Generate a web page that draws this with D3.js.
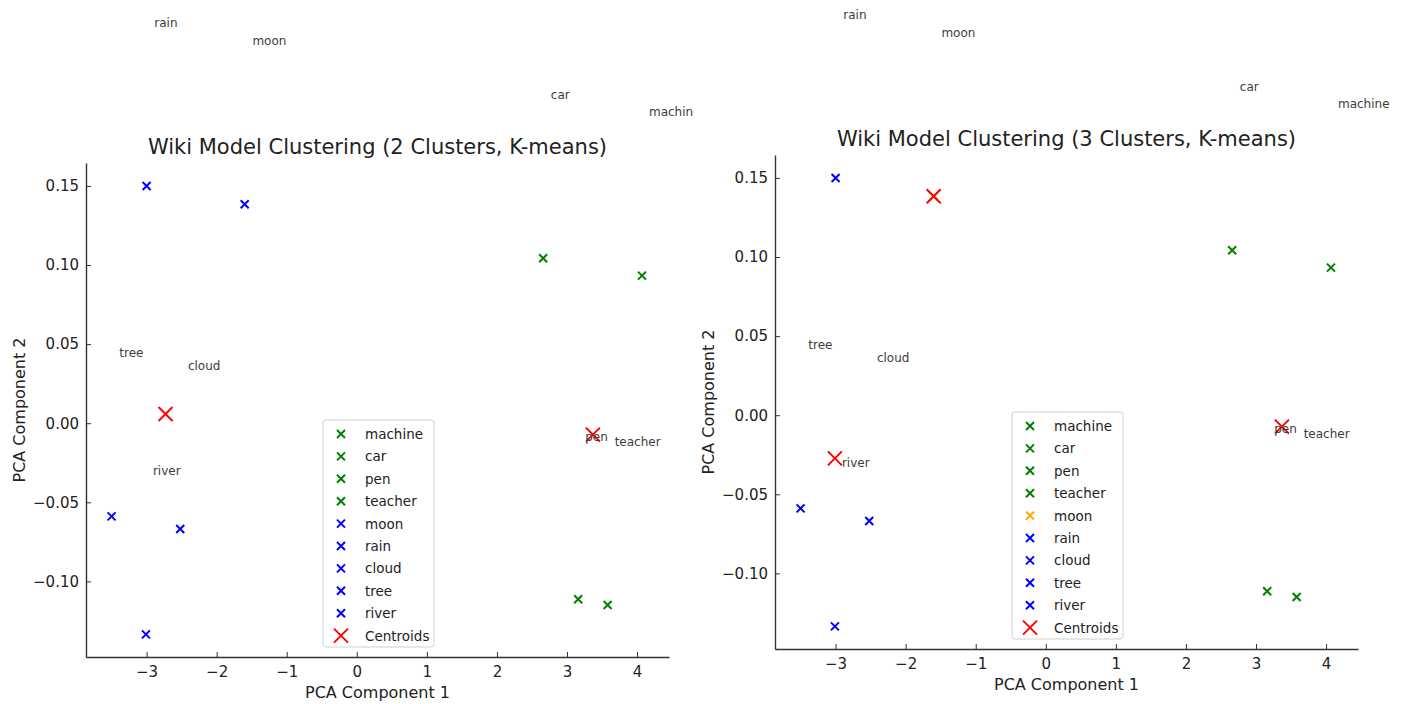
<!DOCTYPE html>
<html>
<head>
<meta charset="utf-8">
<script src="https://cdn.jsdelivr.net/npm/d3@7"></script>
<style>
  body { margin: 0; background: #fff; }
  text { font-family: "DejaVu Sans", sans-serif; }
</style>
</head>
<body>
<div id="chart"></div>
<script>
// words and their PCA coordinates
var words = ["machine", "car", "pen", "teacher", "moon", "rain", "cloud", "tree", "river"];
var pc1 = [4.07, 2.66, 3.16, 3.58, -1.60, -3.00, -2.52, -3.50, -3.01];
var pc2 = [0.0933, 0.1043, -0.1113, -0.1149, 0.1384, 0.1500, -0.0669, -0.0589, -0.1335];

// where the word labels were written (data coords)
var labelX = [4.17, 2.77, 3.26, 3.68, -1.49, -2.89, -2.41, -3.39, -2.91];
var labelY = [0.1967, 0.2075, -0.0086, -0.0120, 0.2416, 0.2530, 0.0363, 0.0443, -0.0304];

// cluster assignments + centroids
var clusters2 = [0, 0, 0, 0, 1, 1, 1, 1, 1];
var colors2 = ["green", "blue"];
var centX2 = [3.37, -2.73];
var centY2 = [-0.0072, 0.0058];

var clusters3 = [0, 0, 0, 0, 1, 2, 2, 2, 2];
var colors3 = ["green", "orange", "blue"];
var centX3 = [3.37, -1.60, -3.01];
var centY3 = [-0.0072, 0.1384, -0.0273];

var xTicks = [-3, -2, -1, 0, 1, 2, 3, 4];
var yTicks = [-0.10, -0.05, 0.00, 0.05, 0.10, 0.15];

var svgWidth = 1404;
var svgHeight = 704;
var width = 583;
var height = 494;

var svg = d3.select("#chart")
  .append("svg")
  .attr("width", svgWidth)
  .attr("height", svgHeight);

// left screenshot is cut off at its right edge
svg.append("clipPath").attr("id", "clipLeft")
  .append("rect").attr("x", 0).attr("y", 0).attr("width", 694).attr("height", svgHeight);

var xScale = d3.scaleLinear().domain([-3.865, 4.456]).range([0, width]);
var yScale = d3.scaleLinear().domain([-0.1478, 0.1645]).range([height, 0]);

// little x marker path
function cross(s) {
  return `M${-s},${-s}L${s},${s}M${-s},${s}L${s},${-s}`;
}

function drawPanel(left, top, title, clusters, colors, centX, centY, clip) {
  var outer = svg.append("g");
  if (clip) outer.attr("clip-path", "url(#clipLeft)");
  var chart = outer.append("g")
    .attr("transform", `translate(${left}, ${top})`);

  // axes, ticks pointing inward
  var bottomAxis = d3.axisBottom(xScale)
    .tickValues(xTicks)
    .tickSizeInner(-5).tickSizeOuter(0).tickPadding(9)
    .tickFormat(d => d3.format("d")(d).replace("-", "\u2212"));
  var leftAxis = d3.axisLeft(yScale)
    .tickValues(yTicks)
    .tickSizeInner(-5).tickSizeOuter(0).tickPadding(7)
    .tickFormat(d => d3.format(".2f")(d).replace("-", "\u2212"));

  var gx = chart.append("g")
    .attr("transform", `translate(0, ${height})`)
    .call(bottomAxis);
  var gy = chart.append("g").call(leftAxis);

  [gx, gy].forEach(function(g) {
    g.select(".domain").attr("stroke", "#333").attr("stroke-width", 1.4);
    g.selectAll(".tick line").attr("stroke", "#333").attr("stroke-width", 1);
    g.selectAll(".tick text").attr("font-size", "15px").attr("fill", "#222")
      .attr("font-family", "DejaVu Sans");
  });

  // title + axis labels
  chart.append("text")
    .attr("x", width / 2).attr("y", -9)
    .attr("text-anchor", "middle")
    .attr("font-size", "21px").attr("fill", "#222")
    .text(title);

  chart.append("text")
    .attr("x", width / 2).attr("y", height + 41)
    .attr("text-anchor", "middle")
    .attr("font-size", "16px").attr("fill", "#222")
    .text("PCA Component 1");

  chart.append("text")
    .attr("transform", "rotate(-90)")
    .attr("x", -height / 2).attr("y", -61)
    .attr("text-anchor", "middle")
    .attr("font-size", "16px").attr("fill", "#222")
    .text("PCA Component 2");

  // word points
  chart.append("g")
    .selectAll("path")
    .data(words)
    .enter()
    .append("path")
    .attr("d", cross(4))
    .attr("transform", (d, i) => `translate(${xScale(pc1[i])}, ${yScale(pc2[i])})`)
    .attr("stroke", (d, i) => colors[clusters[i]])
    .attr("stroke-width", 2)
    .attr("fill", "none");

  // centroids
  chart.append("g")
    .selectAll("path")
    .data(centX)
    .enter()
    .append("path")
    .attr("d", cross(7))
    .attr("transform", (d, i) => `translate(${xScale(centX[i])}, ${yScale(centY[i])})`)
    .attr("stroke", "red")
    .attr("stroke-width", 2)
    .attr("fill", "none");

  // word labels
  chart.append("g")
    .selectAll("text")
    .data(words)
    .enter()
    .append("text")
    .text(d => d)
    .attr("x", (d, i) => xScale(labelX[i]))
    .attr("y", (d, i) => yScale(labelY[i]))
    .attr("dominant-baseline", "central")
    .attr("font-size", "12px")
    .attr("fill", "#3c3c3c");

  // legend
  var entries = words.map((w, i) => ({ name: w, color: colors[clusters[i]], size: 4 }));
  entries.push({ name: "Centroids", color: "red", size: 7 });

  var legend = chart.append("g")
    .attr("transform", "translate(237, 257)");
  legend.append("rect")
    .attr("width", 111).attr("height", 227)
    .attr("rx", 3)
    .attr("fill", "white").attr("fill-opacity", 0.85)
    .attr("stroke", "#d0d0d0");

  var rows = legend.selectAll("g.row")
    .data(entries)
    .enter()
    .append("g")
    .attr("class", "row")
    .attr("transform", (d, i) => `translate(0, ${14 + i * 22.4})`);
  rows.append("path")
    .attr("d", d => cross(d.size))
    .attr("transform", "translate(18, 0)")
    .attr("stroke", d => d.color)
    .attr("stroke-width", 2)
    .attr("fill", "none");
  rows.append("text")
    .attr("x", 42)
    .attr("dominant-baseline", "central")
    .attr("font-size", "13.5px")
    .attr("fill", "#222")
    .text(d => d.name);
}

drawPanel(86, 163, "Wiki Model Clustering (2 Clusters, K-means)", clusters2, colors2, centX2, centY2, true);
drawPanel(775, 155, "Wiki Model Clustering (3 Clusters, K-means)", clusters3, colors3, centX3, centY3, false);
</script>
</body>
</html>
